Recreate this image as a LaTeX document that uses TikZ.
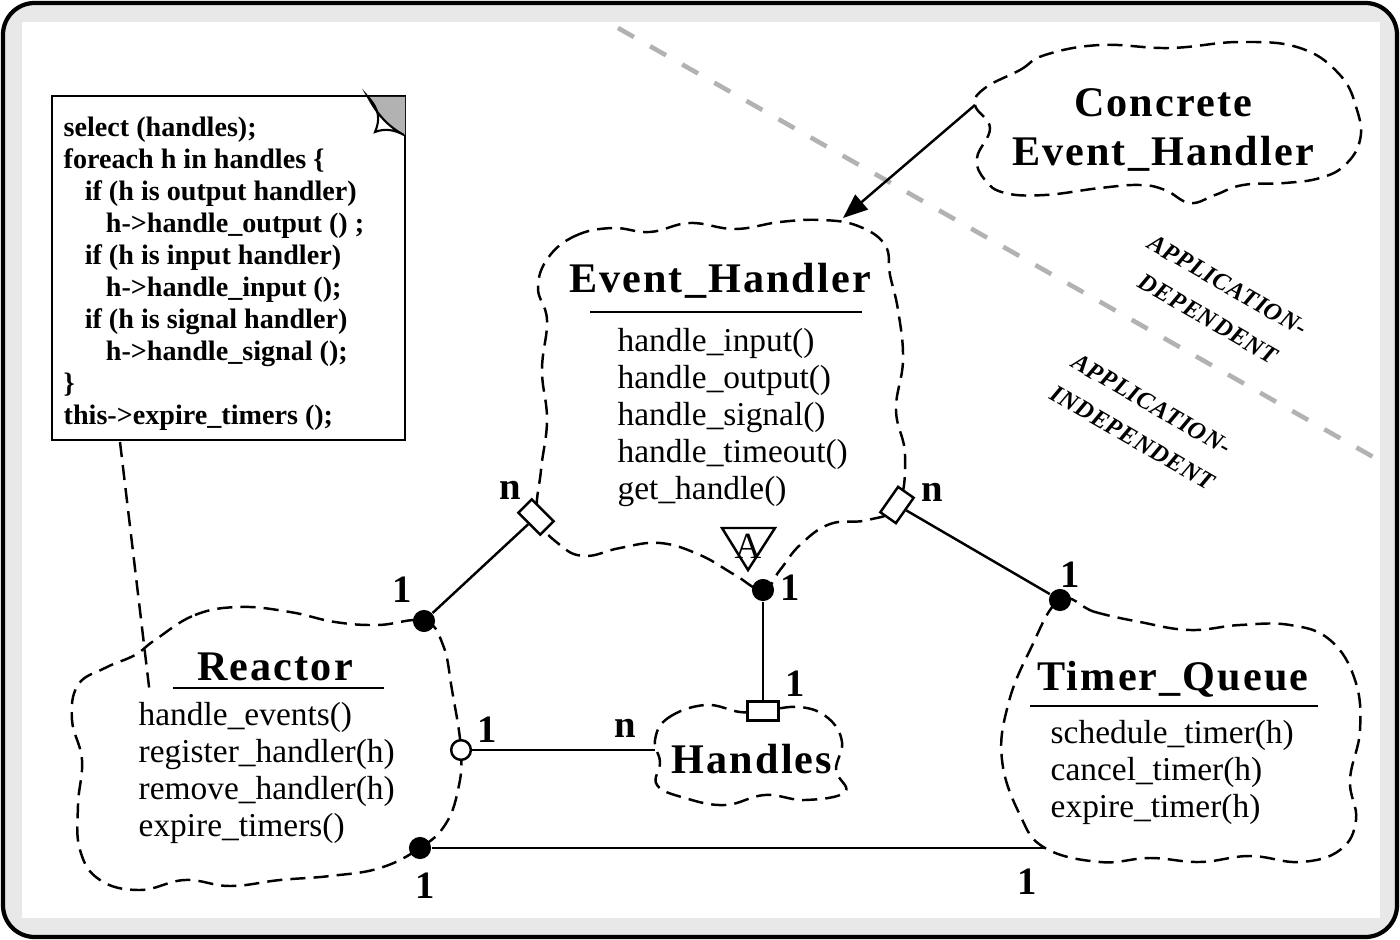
\documentclass[tikz,border=0pt]{standalone}
\usepackage{fontspec}
\setmainfont{Liberation Serif}
\newfontfamily\wideserif[LetterSpace=5]{Liberation Serif}
\newfontfamily\tagserif[LetterSpace=3]{Liberation Serif}
\usetikzlibrary{arrows.meta}
\definecolor{framegray}{HTML}{E8E8E8}

\begin{document}
\begin{tikzpicture}[x=0.01cm,y=-0.01cm,
  cloudline/.style={dash pattern=on 4.3pt off 2.3pt,line width=0.7pt},
  link/.style={line width=0.7pt},
  ball/.style={circle,fill=black,inner sep=0pt,minimum size=6.3pt},
  hollow/.style={circle,draw,fill=white,line width=0.7pt,inner sep=0pt,minimum size=5.6pt},
  multbox/.style={rectangle,draw,fill=white,line width=0.7pt,inner sep=0pt,minimum width=8.8pt,minimum height=5.4pt},
  classname/.style={font=\wideserif\bfseries\fontsize{12}{14}\selectfont,anchor=base,inner sep=0pt},
  ops/.style={font=\fontsize{9.5}{10.5}\selectfont,align=left,anchor=north west,inner sep=0pt},
  mult/.style={font=\bfseries\fontsize{11}{12}\selectfont,inner sep=0pt},
  zone/.style={font=\tagserif\bfseries\itshape\fontsize{7}{11}\selectfont,align=center,rotate=-30,inner sep=0pt}]

  \useasboundingbox (0,0) rectangle (1400,940);
  \draw[line width=1.2pt,rounded corners=9pt,fill=framegray] (3,3) rectangle (1397,937);
  \fill[white] (22,22) rectangle (1380,918);

  \draw[gray!60,line width=1.3pt,dash pattern=on 5.2pt off 5.3pt] (618,28) -- (1382,462);
  \node[zone] (dep) at (1218,302) {APPLICATION-\\DEPENDENT};
  \node[zone] (indep) at (1142,421) {APPLICATION-\\INDEPENDENT};

  \draw[line width=0.6pt] (52,96) rectangle (405,440);
  \fill[gray!60] (368,97) -- (405,97) -- (405,135) .. controls (385,125) and (375,110) .. cycle;
  \draw[line width=0.6pt,fill=white] (368,97) .. controls (380,110) and (380,120) .. (375,132)
    .. controls (385,128) and (395,130) .. (404,135) .. controls (385,125) and (375,110) .. cycle;
  \node[font=\bfseries\fontsize{8}{9.1}\selectfont,align=left,anchor=north west,inner sep=0pt] (code) at (63,116)
    {select (handles);\\
     foreach h in handles \{\\
     \hspace*{6pt}if (h is output handler)\\
     \hspace*{12pt}h->handle\_output () ;\\
     \hspace*{6pt}if (h is input handler)\\
     \hspace*{12pt}h->handle\_input ();\\
     \hspace*{6pt}if (h is signal handler)\\
     \hspace*{12pt}h->handle\_signal ();\\
     \}\\
     this->expire\_timers ();};
  \coordinate (noteTail) at (120,442);
  \coordinate (reactorNote) at (150,695);
  \draw[cloudline] (noteTail) -- (reactorNote);

  \draw[cloudline] plot[smooth cycle,tension=0.7] coordinates {(985,88) (1020,70) (1045,55) (1100,45) (1170,48) (1240,42) (1300,48) (1340,75) (1357,110) (1360,140) (1345,165) (1320,178) (1285,183) (1243,185) (1215,195) (1190,203) (1165,190) (1140,185) (1100,188) (1045,195) (1005,193) (985,180) (977,158) (990,128) (975,105)};
  \node[classname] (conTitle) at (1163,117) {Concrete};
  \node[classname] (conTitle2) at (1163,166) {Event\_Handler};

  \draw[cloudline] plot[smooth cycle,tension=0.7] coordinates {(548,258) (575,236) (612,228) (650,232) (690,223) (735,229) (780,222) (822,220) (858,226) (885,245) (890,275) (898,310) (903,360) (896,410) (905,455) (898,505) (868,520) (830,524) (800,545) (780,570) (763,590) (735,575) (700,555) (660,543) (620,548) (585,556) (560,545) (538,517) (541,470) (547,420) (542,370) (547,320) (538,288)};
  \node[classname] (ehTitle) at (720,293) {Event\_Handler};
  \draw[link] (590,312) -- (862,312);
  \node[ops] (ehOps) at (617,328) {handle\_input()\\handle\_output()\\handle\_signal()\\handle\_timeout()\\get\_handle()};
  \draw[link] (722,528) -- (775,528) -- (748,570) -- cycle;
  \node[font=\fontsize{10.5}{12}\selectfont,inner sep=0pt] (abs) at (748,546) {A};

  \draw[cloudline] plot[smooth cycle,tension=0.7] coordinates {(155,640) (195,615) (240,607) (290,612) (335,622) (378,625) (424,621) (443,645) (452,690) (461,750) (458,790) (445,825) (420,848) (380,868) (330,876) (280,880) (230,886) (185,880) (140,890) (100,880) (80,850) (78,805) (82,760) (72,720) (78,685) (105,668) (135,655)};
  \node[classname] (reTitle) at (275,680) {Reactor};
  \draw[link] (173,688) -- (384,688);
  \node[ops] (reOps) at (138,702) {handle\_events()\\register\_handler(h)\\remove\_handler(h)\\expire\_timers()};

  \draw[cloudline] plot[smooth cycle,tension=0.7] coordinates {(655,740) (668,718) (705,705) (740,712) (763,711) (800,707) (828,718) (842,742) (836,770) (845,792) (805,800) (765,795) (725,805) (685,798) (657,785) (660,762)};
  \node[classname] (haTitle) at (752,773) {Handles};

  \draw[cloudline] plot[smooth cycle,tension=0.7] coordinates {(1060,600) (1095,612) (1140,622) (1190,630) (1240,625) (1290,625) (1330,640) (1355,680) (1360,730) (1350,780) (1356,820) (1340,850) (1300,862) (1250,856) (1200,862) (1150,858) (1100,862) (1045,848) (1020,815) (1002,760) (1008,705) (1030,650)};
  \node[classname] (tqTitle) at (1173,690) {Timer\_Queue};
  \draw[link] (1030,706) -- (1318,706);
  \node[ops] (tqOps) at (1050,720) {schedule\_timer(h)\\cancel\_timer(h)\\expire\_timer(h)};

  \coordinate (cehTail) at (975,105);
  \coordinate (ehHead) at (843,218);
  \draw[link,-{Triangle[length=7pt,width=5.5pt]}] (cehTail) -- (ehHead);

  \node[multbox,rotate=-45] (ehLeft) at (536,517) {};
  \node[multbox,rotate=55] (ehRight) at (897,505) {};
  \node[ball] (ehBall) at (763,590) {};
  \node[ball] (reTop) at (424,621) {};
  \node[ball] (reBottom) at (420,848) {};
  \node[hollow] (reSide) at (461,750) {};
  \node[ball] (tqTop) at (1060,600) {};
  \node[multbox] (haTop) at (763,711) {};
  \coordinate (haLeft) at (655,750);
  \coordinate (tqLeft) at (1045,848);

  \draw[link] (reTop) -- (ehLeft);
  \draw[link] (ehRight) -- (tqTop);
  \draw[link] (ehBall) -- (haTop);
  \draw[link] (reSide) -- (haLeft);
  \draw[link] (reBottom) -- (tqLeft);

  \node[mult] (mEhLeft) at (510,490) {n};
  \node[mult] (mReTop) at (402,590) {1};
  \node[mult] (mEhBall) at (790,588) {1};
  \node[mult] (mEhRight) at (932,492) {n};
  \node[mult] (mTqTop) at (1070,575) {1};
  \node[mult] (mHaTop) at (795,684) {1};
  \node[mult] (mReSide) at (487,730) {1};
  \node[mult] (mHaLeft) at (625,728) {n};
  \node[mult] (mReBottom) at (425,886) {1};
  \node[mult] (mTqLeft) at (1027,882) {1};
\end{tikzpicture}
\end{document}
